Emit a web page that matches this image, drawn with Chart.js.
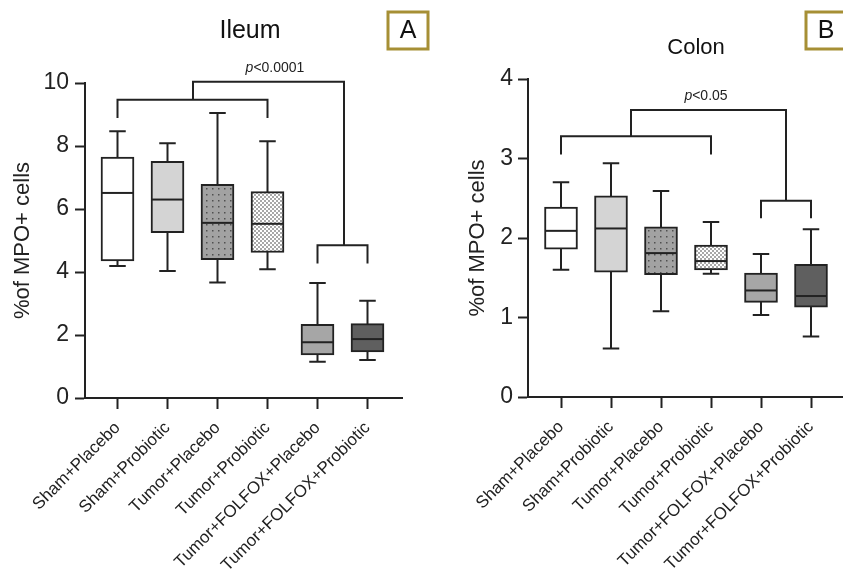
<!DOCTYPE html>
<html>
<head>
<meta charset="utf-8">
<script src="https://cdn.jsdelivr.net/npm/chart.js@4.4.1/dist/chart.umd.min.js"></script>
<style>
  html, body { margin: 0; padding: 0; background: #fff; overflow: hidden; }
  #wrap { position: relative; width: 843px; height: 573px; }
  .panel { position: absolute; top: 0; height: 573px; }
  #ileumPanel { left: 0; width: 430px; }
  #colonPanel { left: 430px; width: 413px; }
</style>
</head>
<body>
<div id="wrap">
  <div class="panel" id="ileumPanel"><canvas id="ileumChart"></canvas></div>
  <div class="panel" id="colonPanel"><canvas id="colonChart"></canvas></div>
</div>
<script>
const categories = ['Sham+Placebo', 'Sham+Probiotic', 'Tumor+Placebo', 'Tumor+Probiotic',
  'Tumor+FOLFOX+Placebo', 'Tumor+FOLFOX+Probiotic'];

// Ileum (panel A)
const ileumMin    = [4.19, 4.03, 3.67, 4.09, 1.15, 1.21];
const ileumQ1     = [4.35, 5.25, 4.39, 4.62, 1.37, 1.46];
const ileumMedian = [6.51, 6.30, 5.56, 5.53, 1.77, 1.87];
const ileumQ3     = [7.65, 7.51, 6.78, 6.55, 2.34, 2.36];
const ileumMax    = [8.47, 8.09, 9.05, 8.15, 3.65, 3.09];
const ileumTicks  = [0, 2, 4, 6, 8, 10];
// brackets: [from category, to category, bar value, leg end value]
const ileumBrackets = [[0, 3, 9.47, 8.89], [4, 5, 4.85, 4.27]];
const ileumLink = [1.51, 4.53, 10.04]; // joins the two brackets: x left, x right, top value
const ileumP = ['p', '<0.0001', 3.15, 10.34];

// Colon (panel B)
const colonMin    = [1.60, 0.61, 1.08, 1.55, 1.03, 0.76];
const colonQ1     = [1.86, 1.57, 1.54, 1.60, 1.19, 1.13];
const colonMedian = [2.09, 2.12, 1.81, 1.71, 1.34, 1.27];
const colonQ3     = [2.39, 2.53, 2.14, 1.91, 1.56, 1.67];
const colonMax    = [2.70, 2.94, 2.59, 2.20, 1.80, 2.11];
const colonTicks  = [0, 1, 2, 3, 4];
const colonBrackets = [[0, 3, 3.28, 3.05], [4, 5, 2.47, 2.25]];
const colonLink = [1.40, 4.50, 3.61];
const colonP = ['p', '<0.05', 2.9, 3.74];

const ink = '#222';
const fontFam = "'Liberation Sans', Arial, sans-serif";
Chart.defaults.font.family = fontFam;
Chart.defaults.color = ink;

function makePattern(kind){
  const c = document.createElement('canvas');
  const g = c.getContext('2d');
  if(kind === 'dots'){
    c.width = 6; c.height = 6;
    g.fillStyle = '#a2a2a2'; g.fillRect(0, 0, 6, 6);
    g.fillStyle = '#505050'; g.fillRect(2, 2, 1.5, 1.5);
  } else {
    c.width = 4; c.height = 4;
    g.fillStyle = '#ffffff'; g.fillRect(0, 0, 4, 4);
    g.fillStyle = '#a8a8a8'; g.fillRect(0, 0, 2, 2); g.fillRect(2, 2, 2, 2);
  }
  return g.createPattern(c, 'repeat');
}
const boxFills = ['#ffffff', '#d4d4d4', makePattern('dots'), makePattern('check'), '#a6a6a6', '#5f5f5f'];

function boxExtras(p){
  return {
    id: 'boxExtras',
    beforeDatasetsDraw(chart){
      const {ctx, scales: {x, y}} = chart;
      const meta = chart.getDatasetMeta(0);
      ctx.save();
      ctx.strokeStyle = ink; ctx.lineWidth = 2;
      p.min.forEach((lo, i) => {
        const cx = x.getPixelForValue(i);
        const half = meta.data[i].width / 4;
        const yLo = y.getPixelForValue(lo), yHi = y.getPixelForValue(p.max[i]);
        ctx.beginPath();
        ctx.moveTo(cx, yLo); ctx.lineTo(cx, yHi);
        ctx.moveTo(cx - half, yLo); ctx.lineTo(cx + half, yLo);
        ctx.moveTo(cx - half, yHi); ctx.lineTo(cx + half, yHi);
        ctx.stroke();
      });
      ctx.restore();
    },
    afterDatasetsDraw(chart){
      const {ctx, scales: {x, y}} = chart;
      const meta = chart.getDatasetMeta(0);
      ctx.save();
      ctx.strokeStyle = ink; ctx.lineWidth = 2;
      // medians
      p.median.forEach((m, i) => {
        const cx = x.getPixelForValue(i);
        const half = meta.data[i].width / 2 - 1;
        const my = y.getPixelForValue(m);
        ctx.beginPath(); ctx.moveTo(cx - half, my); ctx.lineTo(cx + half, my); ctx.stroke();
      });
      // significance brackets
      p.brackets.forEach(b => {
        const x0 = x.getPixelForValue(b[0]), x1 = x.getPixelForValue(b[1]);
        const yb = y.getPixelForValue(b[2]), yl = y.getPixelForValue(b[3]);
        ctx.beginPath();
        ctx.moveTo(x0, yl); ctx.lineTo(x0, yb); ctx.lineTo(x1, yb); ctx.lineTo(x1, yl);
        ctx.stroke();
      });
      const l = p.link;
      ctx.beginPath();
      ctx.moveTo(x.getPixelForValue(l[0]), y.getPixelForValue(p.brackets[0][2]));
      ctx.lineTo(x.getPixelForValue(l[0]), y.getPixelForValue(l[2]));
      ctx.lineTo(x.getPixelForValue(l[1]), y.getPixelForValue(l[2]));
      ctx.lineTo(x.getPixelForValue(l[1]), y.getPixelForValue(p.brackets[1][2]));
      ctx.stroke();
      // p value label, italic p
      const italic = 'italic 14px ' + fontFam, plain = '14px ' + fontFam;
      ctx.font = italic; const w1 = ctx.measureText(p.pText[0]).width;
      ctx.font = plain; const w2 = ctx.measureText(p.pText[1]).width;
      const tx = x.getPixelForValue(p.pText[2]) - (w1 + w2) / 2;
      const ty = y.getPixelForValue(p.pText[3]);
      ctx.fillStyle = ink; ctx.textBaseline = 'alphabetic'; ctx.textAlign = 'left';
      ctx.font = italic; ctx.fillText(p.pText[0], tx, ty);
      ctx.font = plain; ctx.fillText(p.pText[1], tx + w1, ty);
      ctx.restore();
    },
    afterDraw(chart){
      const ctx = chart.ctx;
      ctx.save();
      ctx.fillStyle = '#111';
      ctx.textAlign = 'center'; ctx.textBaseline = 'alphabetic';
      ctx.font = p.titleSize + 'px ' + fontFam;
      ctx.fillText(p.title, p.titlePos[0], p.titlePos[1]);
      const r = p.letterBox;
      ctx.strokeStyle = '#a68f35'; ctx.lineWidth = 3;
      ctx.strokeRect(r[0], r[1], r[2], r[3]);
      ctx.font = '25px ' + fontFam; ctx.textBaseline = 'middle';
      ctx.fillText(p.letter, r[0] + r[2] / 2, r[1] + r[3] / 2 + 1);
      ctx.restore();
    }
  };
}

function buildChart(canvasId, s){
  return new Chart(document.getElementById(canvasId), {
    type: 'bar',
    data: {
      datasets: [{
        data: categories.map((c, i) => ({x: i, y: [s.q1[i], s.q3[i]]})),
        backgroundColor: boxFills,
        borderColor: ink,
        borderWidth: 2,
        borderSkipped: false,
        barThickness: 33
      }]
    },
    options: {
      responsive: true,
      maintainAspectRatio: false,
      animation: false,
      events: [],
      layout: {padding: {top: s.top, right: s.right, left: 0, bottom: 0}},
      plugins: {legend: {display: false}, tooltip: {enabled: false}},
      scales: {
        x: {
          type: 'linear',
          offset: false,
          min: s.xMin, max: s.xMax,
          afterBuildTicks: ax => { ax.ticks = categories.map((c, i) => ({value: i})); },
          afterFit: ax => { ax.height = 573 - s.bottom; ax.paddingLeft = 0; ax.paddingRight = 0; },
          grid: {offset: false, drawOnChartArea: false, drawTicks: true, tickLength: 11, tickWidth: 2, tickColor: ink},
          border: {display: true, color: ink, width: 2},
          ticks: {
            autoSkip: false, maxRotation: 45, minRotation: 45, padding: 9,
            font: {size: 17}, color: ink,
            callback: v => categories[v]
          }
        },
        y: {
          min: 0, max: s.yMax,
          afterBuildTicks: ax => { ax.ticks = s.ticks.map(v => ({value: v})); },
          afterFit: ax => { ax.width = s.yWidth; ax.paddingTop = 0; ax.paddingBottom = 0; },
          grid: {drawOnChartArea: false, drawTicks: true, tickLength: 10, tickWidth: 2, tickColor: ink},
          border: {display: true, color: ink, width: 2},
          ticks: {font: {size: 23}, color: ink, padding: s.tickPad},
          title: {display: true, text: '%of MPO+ cells', font: {size: 22}, color: ink,
                  padding: {top: s.titlePad, bottom: 0}}
        }
      }
    },
    plugins: [boxExtras(s)]
  });
}

buildChart('ileumChart', {
  q1: ileumQ1, q3: ileumQ3, min: ileumMin, max: ileumMax, median: ileumMedian,
  brackets: ileumBrackets, link: ileumLink, pText: ileumP, ticks: ileumTicks,
  yMax: 10, xMin: -0.65, xMax: 5.69,
  top: 83, right: 28, bottom: 398, yWidth: 85, tickPad: 6, titlePad: 10,
  title: 'Ileum', titleSize: 25, titlePos: [250, 38],
  letter: 'A', letterBox: [388, 12, 40, 37]
});

buildChart('colonChart', {
  q1: colonQ1, q3: colonQ3, min: colonMin, max: colonMax, median: colonMedian,
  brackets: colonBrackets, link: colonLink, pText: colonP, ticks: colonTicks,
  yMax: 4, xMin: -0.66, xMax: 5.64,
  top: 79, right: 0, bottom: 397, yWidth: 98, tickPad: 5, titlePad: 35,
  title: 'Colon', titleSize: 22, titlePos: [266, 54],
  letter: 'B', letterBox: [376, 12, 40, 37]
});
</script>
</body>
</html>
